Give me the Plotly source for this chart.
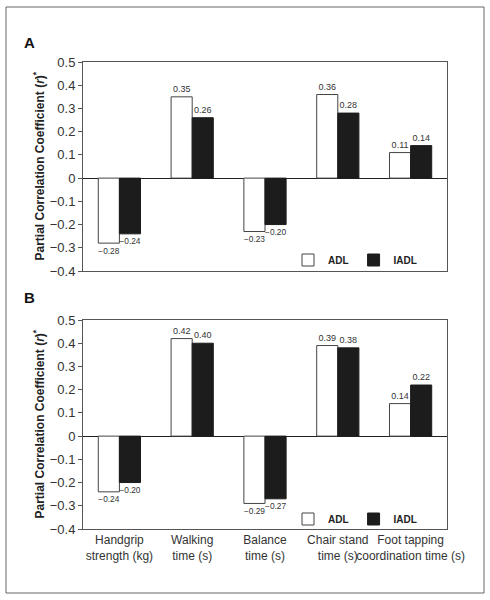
import plotly.graph_objects as go

categories = ["Handgrip<br>strength (kg)", "Walking<br>time (s)", "Balance<br>time (s)",
              "Chair stand<br>time (s)", "Foot tapping<br>coordination time (s)"]
a_adl = [-0.28, 0.35, -0.23, 0.36, 0.11]
a_iadl = [-0.24, 0.26, -0.20, 0.28, 0.14]
b_adl = [-0.24, 0.42, -0.29, 0.39, 0.14]
b_iadl = [-0.20, 0.40, -0.27, 0.38, 0.22]
ytick_vals = [0.5, 0.4, 0.3, 0.2, 0.1, 0, -0.1, -0.2, -0.3, -0.4]

def fmt(v):
    s = f"{abs(v):.2f}"
    return ("\u2212" + s) if v < 0 else s

def ytext(v):
    if v == 0:
        return "0"
    s = f"{abs(v):.1f}"
    return ("\u2212" + s) if v < 0 else s

W, H = 490, 600
FONT = "Arial, Liberation Sans, sans-serif"
fig = go.Figure()

def add_panel(adl, iadl, xa, ya, legend):
    fig.add_trace(go.Bar(x=categories, y=adl, name="ADL", xaxis=xa, yaxis=ya,
                         marker=dict(color="white", line=dict(color="#444", width=1)),
                         text=[fmt(v) for v in adl], textposition="outside",
                         textfont=dict(size=9, color="#333", family=FONT),
                         cliponaxis=False, legend=legend))
    fig.add_trace(go.Bar(x=categories, y=iadl, name="IADL", xaxis=xa, yaxis=ya,
                         marker=dict(color="#1c1c1c", line=dict(color="#1c1c1c", width=1)),
                         text=[fmt(v) for v in iadl], textposition="outside",
                         textfont=dict(size=9, color="#333", family=FONT),
                         cliponaxis=False, legend=legend))

add_panel(a_adl, a_iadl, "x", "y", "legend")
add_panel(b_adl, b_iadl, "x2", "y2", "legend2")

xdom = [83 / W, 447 / W]
def ydom(top, bottom):
    return [1 - bottom / H, 1 - top / H]

yaxis_common = dict(range=[-0.4, 0.5], tickvals=ytick_vals, ticktext=[ytext(v) for v in ytick_vals],
                    ticks="outside", ticklen=4, tickcolor="#555", showgrid=False,
                    showline=True, linecolor="#555", linewidth=1, mirror=True,
                    zeroline=True, zerolinecolor="#222", zerolinewidth=1, automargin=False,
                    tickfont=dict(size=13, color="#333", family=FONT))
xaxis_common = dict(showgrid=False, showline=True, linecolor="#555", linewidth=1, mirror=True,
                    ticks="", automargin=False, tickangle=0,
                    tickfont=dict(size=12, color="#333", family=FONT))

legend_common = dict(orientation="h", xanchor="right", yanchor="middle",
                     font=dict(size=10, color="#222", family=FONT, weight="bold"),
                     bgcolor="rgba(0,0,0,0)", itemwidth=30, traceorder="normal")

fig.update_layout(
    width=W, height=H, margin=dict(l=0, r=0, t=0, b=0, autoexpand=False),
    paper_bgcolor="white", plot_bgcolor="white",
    barmode="group", bargap=0.42, bargroupgap=0,
    font=dict(family=FONT),
    xaxis=dict(domain=xdom, anchor="y", showticklabels=False, **xaxis_common),
    yaxis=dict(domain=ydom(62, 271), anchor="x", **yaxis_common),
    xaxis2=dict(domain=xdom, anchor="y2", showticklabels=True, **xaxis_common),
    yaxis2=dict(domain=ydom(320, 529), anchor="x2", **yaxis_common),
    legend=dict(x=422 / W, y=1 - 260 / H, **legend_common),
    legend2=dict(x=422 / W, y=1 - 519 / H, **legend_common),
    showlegend=True,
)

fig.add_shape(type="rect", xref="paper", yref="paper",
              x0=6 / W, x1=484 / W, y0=1 - 593 / H, y1=1 - 7 / H,
              line=dict(color="#666", width=1))

for lab, y in [("A", 43), ("B", 297)]:
    fig.add_annotation(text=f"<b>{lab}</b>", xref="paper", yref="paper",
                       x=29 / W, y=1 - y / H, showarrow=False,
                       xanchor="center", yanchor="middle",
                       font=dict(size=15, color="#111", family=FONT))

ytitle = "<b>Partial Correlation Coefficient (<i>r</i>)<sup>*</sup></b>"
for ymid in [(62 + 271) / 2, (320 + 529) / 2]:
    fig.add_annotation(text=ytitle, xref="paper", yref="paper",
                       x=38 / W, y=1 - ymid / H, textangle=-90, showarrow=False,
                       xanchor="center", yanchor="middle",
                       font=dict(size=12, color="#222", family=FONT))

fig.write_html("out.html", config={"displayModeBar": False},
               post_script="document.body.style.margin='0px';document.body.style.overflow='hidden';")
